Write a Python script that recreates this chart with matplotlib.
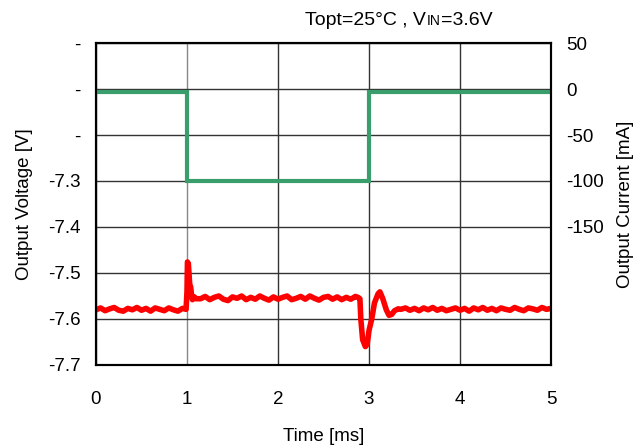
import numpy as np
import matplotlib
matplotlib.use("Agg")
import matplotlib.pyplot as plt

plt.rcParams['font.family'] = ['Liberation Sans', 'DejaVu Sans']

# --- Data ---
# output current step (right axis, mA)
t_cur = [0.0, 1.0, 1.0, 3.0, 3.0, 5.0]
i_cur = [-3.5, -3.5, -100.0, -100.0, -3.5, -3.5]

# output voltage (left axis, V)
t_pre = np.linspace(0.0, 0.95, 20)
v_pre = [-7.580, -7.576, -7.582, -7.578, -7.575, -7.581, -7.583, -7.577, -7.580, -7.575,
         -7.581, -7.577, -7.583, -7.576, -7.579, -7.582, -7.576, -7.580, -7.583, -7.577]

t_step_on = [0.99, 1.0, 1.005, 1.015, 1.025, 1.03, 1.04, 1.05, 1.06, 1.08, 1.10]
v_step_on = [-7.579, -7.540, -7.476, -7.480, -7.510, -7.525, -7.530, -7.548, -7.558, -7.552, -7.556]

t_load = np.linspace(1.15, 2.85, 35)
v_load = [-7.556, -7.551, -7.558, -7.553, -7.550, -7.557, -7.560, -7.552, -7.555, -7.550,
          -7.558, -7.553, -7.557, -7.550, -7.555, -7.559, -7.552, -7.557, -7.553, -7.550,
          -7.558, -7.555, -7.551, -7.557, -7.550, -7.555, -7.559, -7.553, -7.551, -7.557,
          -7.552, -7.558, -7.553, -7.557, -7.551]

t_step_off = [2.88, 2.90, 2.91, 2.93, 2.96, 2.98, 3.00, 3.03, 3.06, 3.10, 3.12, 3.15,
              3.19, 3.22, 3.25, 3.28, 3.32]
v_step_off = [-7.553, -7.556, -7.600, -7.645, -7.660, -7.655, -7.625, -7.600, -7.565,
              -7.545, -7.541, -7.555, -7.580, -7.592, -7.590, -7.582, -7.578]

t_post = np.linspace(3.35, 5.0, 34)
v_post = [-7.579, -7.576, -7.581, -7.577, -7.582, -7.576, -7.580, -7.575, -7.581, -7.577,
          -7.582, -7.579, -7.576, -7.581, -7.577, -7.583, -7.576, -7.580, -7.575, -7.581,
          -7.577, -7.582, -7.576, -7.579, -7.581, -7.575, -7.579, -7.582, -7.576, -7.578,
          -7.581, -7.575, -7.579, -7.577]

v_ticks = [-7.7, -7.6, -7.5, -7.4, -7.3, -7.2, -7.1, -7.0]
v_ticklabels = ['-7.7', '-7.6', '-7.5', '-7.4', '-7.3', '-', '-', '-']
i_ticks = [-300, -250, -200, -150, -100, -50, 0, 50]
i_ticklabels = ['', '', '', '-150', '-100', '-50', '0', '50']
t_ticks = [0, 1, 2, 3, 4, 5]

t_v = np.concatenate([t_pre, t_step_on, t_load, t_step_off, t_post])
v_v = np.concatenate([v_pre, v_step_on, v_load, v_step_off, v_post])

fs = 13.5
fig = plt.figure(figsize=(6.42, 4.48), dpi=100)
ax = fig.add_axes([0.1495, 0.1853, 0.7088, 0.7187])
ax2 = ax.twinx()

ax.set_xlim(0, 5)
ax.set_ylim(-7.7, -7.0)
ax2.set_ylim(-300, 50)

ax.set_xticks(t_ticks)
ax.set_xticklabels([str(t) for t in t_ticks], fontsize=fs)
ax.set_yticks(v_ticks)
ax.set_yticklabels(v_ticklabels, fontsize=fs)
ax2.set_yticks(i_ticks)
ax2.set_yticklabels(i_ticklabels, fontsize=fs)

ax.tick_params(axis='x', length=0, pad=19)
ax.tick_params(axis='y', length=0, pad=11)
ax2.tick_params(axis='y', length=0, pad=11)

ax.grid(True, color='#333333', linewidth=1.0)
# the 1 ms gridline looks lighter on the scope capture
ax.get_xgridlines()[1].set_color('#888888')

for sp in ax.spines.values():
    sp.set_linewidth(1.5)
for sp in ax2.spines.values():
    sp.set_linewidth(1.5)

ax2.plot(t_cur, i_cur, color='#3a9e6c', lw=3.0, solid_joinstyle='miter')
ax.plot(t_v, v_v, color='#ff0000', lw=4.0, zorder=5)

ax.set_xlabel('Time [ms]', fontsize=fs, labelpad=14)
ax.set_ylabel('Output Voltage [V]', fontsize=fs, labelpad=11)
ax2.set_ylabel('Output Current [mA]', fontsize=fs, labelpad=9)

# title with small "IN" on the baseline
fig.canvas.draw()
r = fig.canvas.get_renderer()
y0 = 1 - 25 / 448
t1 = fig.text(305 / 642, y0, 'Topt=25°C , V', fontsize=14, va='baseline')
x1 = t1.get_window_extent(r).x1 / fig.bbox.width
t2 = fig.text(x1 + 1 / 642, y0, 'IN', fontsize=10, va='baseline')
x2 = t2.get_window_extent(r).x1 / fig.bbox.width
fig.text(x2, y0, '=3.6V', fontsize=14, va='baseline')

fig.savefig('out.png', dpi=100)
